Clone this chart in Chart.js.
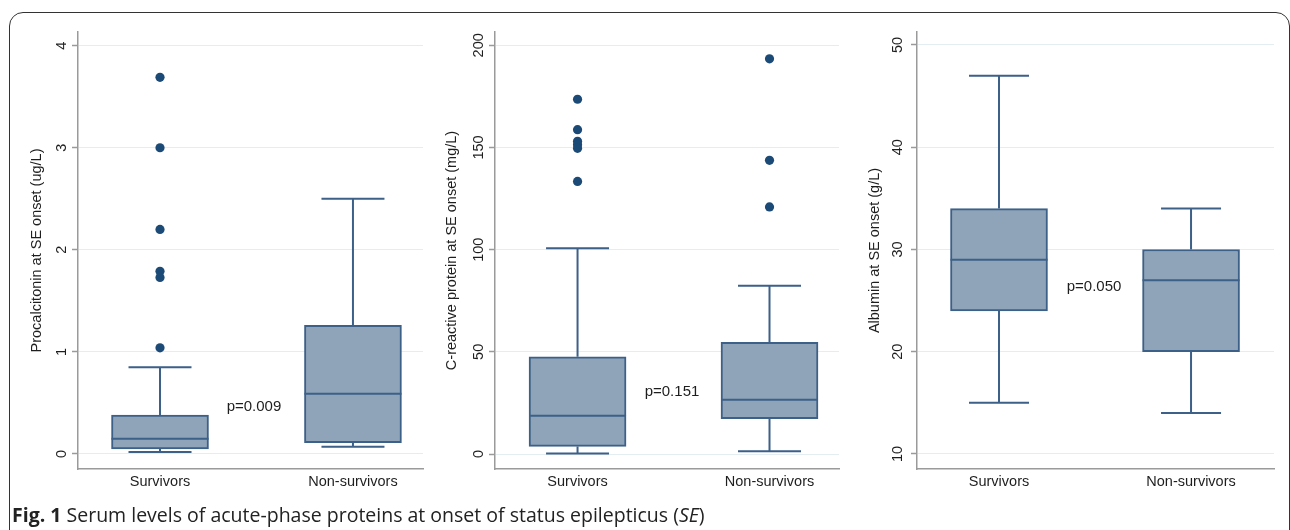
<!DOCTYPE html>
<html><head><meta charset="utf-8">
<script src="https://cdn.jsdelivr.net/npm/chart.js@4.4.0/dist/chart.umd.min.js"></script>
<style>
html,body{margin:0;padding:0;background:#fff;}
body{width:1290px;height:530px;position:relative;overflow:hidden;}
#frame{position:absolute;left:9px;top:12px;width:1281px;height:620px;box-sizing:border-box;border:1.5px solid #333;border-radius:14px;}
canvas{position:absolute;top:0;}
#caption{position:absolute;left:12px;top:502px;font-family:'Open Sans',sans-serif;font-size:19.5px;line-height:26px;color:#222;white-space:nowrap;}
</style></head><body>
<div id="frame"></div>
<canvas id="c1" width="430" height="530" style="left:0px"></canvas>
<canvas id="c2" width="420" height="530" style="left:430px"></canvas>
<canvas id="c3" width="430" height="530" style="left:860px"></canvas>
<div id="caption"><b>Fig. 1</b> Serum levels of acute-phase proteins at onset of status epilepticus (<i>SE</i>)</div>
<script>
// ---- data ----
const groups = ['Survivors', 'Non-survivors'];

const pctLowerWhisker = [0.02, 0.07];
const pctQ1 = [0.05, 0.11];
const pctMedian = [0.15, 0.59];
const pctQ3 = [0.38, 1.26];
const pctUpperWhisker = [0.85, 2.50];
const pctOutliers = [[3.69, 3.00, 2.20, 1.79, 1.73, 1.04], []];
const pctTicks = [0, 1, 2, 3, 4];
const pctP = 'p=0.009';

const crpLowerWhisker = [0.2, 1.3];
const crpQ1 = [3.7, 17.3];
const crpMedian = [18.7, 26.6];
const crpQ3 = [47.6, 54.7];
const crpUpperWhisker = [100.7, 82.4];
const crpOutliers = [[173.6, 158.7, 153.0, 151.3, 149.6, 133.4], [193.4, 143.7, 120.9]];
const crpTicks = [0, 50, 100, 150, 200];
const crpP = 'p=0.151';

const albLowerWhisker = [15, 14];
const albQ1 = [24, 20];
const albMedian = [29, 27];
const albQ3 = [34, 30];
const albUpperWhisker = [47, 34];
const albOutliers = [[], []];
const albTicks = [10, 20, 30, 40, 50];
const albP = 'p=0.050';

// ---- style ----
const FONT = "'Liberation Sans', Arial, Helvetica, sans-serif";
const BOX_FILL = '#8fa4b9';
const BOX_LINE = '#3d6088';
const DOT = '#1c4a77';
const AXIS = '#9a9a9a';
const GRID = '#e4edf1';
const TEXT = '#1e1e1e';

function makePanel(id, s, L) {
  const boxData = groups.map((g, i) => ({x: i + 1, y: [s.q1[i], s.q3[i]]}));
  const outData = [];
  s.outliers.forEach((arr, i) => arr.forEach(v => outData.push({x: i + 1, y: v})));

  const parts = {
    id: 'boxParts_' + id,
    afterDatasetsDraw(chart) {
      const {ctx} = chart;
      const x = chart.scales.x, y = chart.scales.y;
      ctx.save();
      ctx.strokeStyle = BOX_LINE;
      ctx.lineWidth = 2;
      ctx.lineCap = 'butt';
      groups.forEach((g, i) => {
        const cx = x.getPixelForValue(i + 1);
        const yq1 = y.getPixelForValue(s.q1[i]);
        const yq3 = y.getPixelForValue(s.q3[i]);
        const ylw = y.getPixelForValue(s.lw[i]);
        const yuw = y.getPixelForValue(s.uw[i]);
        const ym = y.getPixelForValue(s.med[i]);
        ctx.beginPath();
        ctx.moveTo(cx, yq3); ctx.lineTo(cx, yuw);
        ctx.moveTo(cx, yq1); ctx.lineTo(cx, ylw);
        ctx.moveTo(cx - L.cap / 2, yuw); ctx.lineTo(cx + L.cap / 2, yuw);
        ctx.moveTo(cx - L.cap / 2, ylw); ctx.lineTo(cx + L.cap / 2, ylw);
        ctx.moveTo(cx - L.box / 2, ym); ctx.lineTo(cx + L.box / 2, ym);
        ctx.stroke();
      });
      ctx.fillStyle = TEXT;
      ctx.font = '15px ' + FONT;
      ctx.textAlign = 'center';
      ctx.textBaseline = 'middle';
      ctx.fillText(s.p, x.getPixelForValue(L.pX), y.getPixelForValue(L.pY));
      ctx.restore();
    }
  };

  return new Chart(document.getElementById(id), {
    type: 'bar',
    data: {
      datasets: [
        {
          type: 'bar', data: boxData, backgroundColor: BOX_FILL, borderColor: BOX_LINE,
          borderWidth: 2, borderSkipped: false, barThickness: L.box, order: 2
        },
        {
          type: 'scatter', data: outData, backgroundColor: DOT, borderColor: DOT,
          borderWidth: 0, pointRadius: 4.6, order: 1
        }
      ]
    },
    options: {
      responsive: false, animation: false,
      layout: {padding: {top: 32, right: L.padRight, left: 0, bottom: 0}},
      plugins: {legend: {display: false}, tooltip: {enabled: false}},
      scales: {
        x: {
          type: 'linear', min: L.xMin, max: L.xMax, offset: false,
          afterBuildTicks: ax => { ax.ticks = groups.map((g, i) => ({value: i + 1})); },
          afterFit: ax => { ax.height = 61; },
          ticks: {callback: v => groups[v - 1] || '', font: {family: FONT, size: 14.5}, color: TEXT,
                  padding: 4, maxRotation: 0, autoSkip: false},
          grid: {display: false, drawTicks: false},
          border: {display: true, color: AXIS, width: 1.5}
        },
        y: {
          min: L.yMin, max: L.yMax,
          afterBuildTicks: ax => { ax.ticks = s.ticks.map(v => ({value: v})); },
          afterFit: ax => { ax.width = L.yWidth; },
          ticks: {minRotation: 90, maxRotation: 90, crossAlign: 'center', padding: L.tickPad,
                  font: {family: FONT, size: 14.5}, color: TEXT, autoSkip: false},
          grid: {color: GRID, lineWidth: 1, tickLength: 6, tickColor: AXIS, tickWidth: 1.5},
          border: {display: true, color: AXIS, width: 1.5},
          title: {display: true, text: s.title, font: {family: FONT, size: 14.5}, color: TEXT,
                  padding: {top: L.titlePad, bottom: 0}}
        }
      }
    },
    plugins: [parts]
  });
}

makePanel('c1', {
  q1: pctQ1, q3: pctQ3, med: pctMedian, lw: pctLowerWhisker, uw: pctUpperWhisker,
  outliers: pctOutliers, ticks: pctTicks, p: pctP, title: 'Procalcitonin at SE onset (ug/L)'
}, {yWidth: 78, padRight: 7, titlePad: 28, tickPad: 6, xMin: 0.575, xMax: 2.363,
    yMin: -0.147, yMax: 4.134, box: 97, cap: 63, pX: 1.487, pY: 0.46});

makePanel('c2', {
  q1: crpQ1, q3: crpQ3, med: crpMedian, lw: crpLowerWhisker, uw: crpUpperWhisker,
  outliers: crpOutliers, ticks: crpTicks, p: crpP, title: 'C-reactive protein at SE onset (mg/L)'
}, {yWidth: 65, padRight: 11, titlePad: 13, tickPad: -2, xMin: 0.570, xMax: 2.362,
    yMin: -7.335, yMax: 206.52, box: 97, cap: 63, pX: 1.492, pY: 30.5});

makePanel('c3', {
  q1: albQ1, q3: albQ3, med: albMedian, lw: albLowerWhisker, uw: albUpperWhisker,
  outliers: albOutliers, ticks: albTicks, p: albP, title: 'Albumin at SE onset (g/L)'
}, {yWidth: 57, padRight: 16, titlePad: 6, tickPad: 4.5, xMin: 0.573, xMax: 2.432,
    yMin: 8.533, yMax: 51.27, box: 97, cap: 60, pX: 1.495, pY: 26.33});
</script>
</body></html>
